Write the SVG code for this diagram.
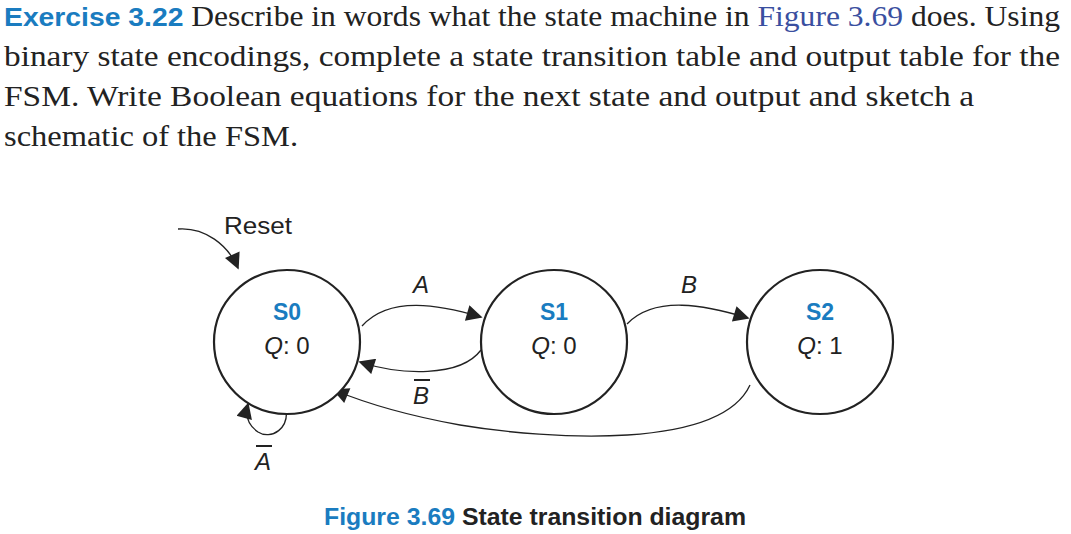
<svg xmlns="http://www.w3.org/2000/svg" width="1071" height="534" viewBox="0 0 1071 534">
<defs>
<marker id="ahb" viewBox="0 0 10 10" refX="9" refY="5" markerWidth="18" markerHeight="16" orient="auto" markerUnits="userSpaceOnUse"><path d="M0,0 L10,5 L0,10 z" fill="#222"/></marker>
</defs>
<style>
.st{fill:#fff;stroke:#222;stroke-width:2.2}
.e{fill:none;stroke:#222;stroke-width:1.3}
.lb{font-family:"Liberation Sans",Arial,sans-serif;font-size:24px;fill:#222}
.nm{font-family:"Liberation Sans",Arial,sans-serif;font-size:23px;font-weight:bold;fill:#1a7cc0}
.tx{font-family:"Liberation Serif","Times New Roman",serif;font-size:29px;fill:#222}
.bl{font-family:"Liberation Sans",Arial,sans-serif;font-weight:bold;fill:#1a7cc0}
</style>
<rect width="1071" height="534" fill="#fff"/>
<text class="tx" x="4" y="26" textLength="1056" lengthAdjust="spacingAndGlyphs"><tspan class="bl" font-size="26">Exercise 3.22</tspan> Describe in words what the state machine in <tspan fill="#3a4fa0">Figure 3.69</tspan> does. Using</text>
<text class="tx" x="4" y="66" textLength="1056" lengthAdjust="spacingAndGlyphs">binary state encodings, complete a state transition table and output table for the</text>
<text class="tx" x="4" y="106" textLength="970" lengthAdjust="spacingAndGlyphs">FSM. Write Boolean equations for the next state and output and sketch a</text>
<text class="tx" x="4" y="146" textLength="294" lengthAdjust="spacingAndGlyphs">schematic of the FSM.</text>
<g id="connectors">
<path class="e" d="M178,229 C205,227 228,245 238,268" marker-end="url(#ahb)"/>
<path class="e" d="M362,326 C390,295 440,305 481,317" marker-end="url(#ahb)"/>
<path class="e" d="M481,350 C460,378 400,375 360,362" marker-end="url(#ahb)"/>
<path class="e" d="M627,324 C655,295 705,305 748,318" marker-end="url(#ahb)"/>
<path class="e" d="M750,385 C720,450 550,440 460,425 C410,416 370,405 334,390" marker-end="url(#ahb)"/>
<path class="e" d="M285,403 C292,430 270,440 258,432 C248,425 245,415 248,404" marker-end="url(#ahb)"/>
</g>
<g id="S0"><ellipse class="st" cx="287" cy="342" rx="73" ry="72"/><text class="nm" x="287" y="320" text-anchor="middle">S0</text><text class="lb" x="287" y="354" text-anchor="middle"><tspan font-style="italic">Q</tspan>: 0</text></g>
<g id="S1"><ellipse class="st" cx="554" cy="342" rx="73" ry="72"/><text class="nm" x="554" y="320" text-anchor="middle">S1</text><text class="lb" x="554" y="354" text-anchor="middle"><tspan font-style="italic">Q</tspan>: 0</text></g>
<g id="S2"><ellipse class="st" cx="820" cy="342" rx="73" ry="72"/><text class="nm" x="820" y="320" text-anchor="middle">S2</text><text class="lb" x="820" y="354" text-anchor="middle"><tspan font-style="italic">Q</tspan>: 1</text></g>
<g id="labels">
<text class="lb" x="258" y="234" text-anchor="middle" textLength="68" lengthAdjust="spacingAndGlyphs">Reset</text>
<text class="lb" x="421" y="293" text-anchor="middle" font-style="italic">A</text>
<text class="lb" x="689" y="293" text-anchor="middle" font-style="italic">B</text>
<text class="lb" x="421" y="404" text-anchor="middle" font-style="italic">B</text>
<line x1="414" y1="380" x2="430" y2="380" stroke="#222" stroke-width="2"/>
<text class="lb" x="263" y="470" text-anchor="middle" font-style="italic">A</text>
<line x1="256" y1="446" x2="272" y2="446" stroke="#222" stroke-width="2"/>
</g>
<text x="535" y="525" text-anchor="middle" font-family="Liberation Sans,Arial,sans-serif" font-weight="bold" font-size="23" fill="#222" textLength="422" lengthAdjust="spacingAndGlyphs"><tspan fill="#1a7cc0">Figure 3.69</tspan> State transition diagram</text>
</svg>
